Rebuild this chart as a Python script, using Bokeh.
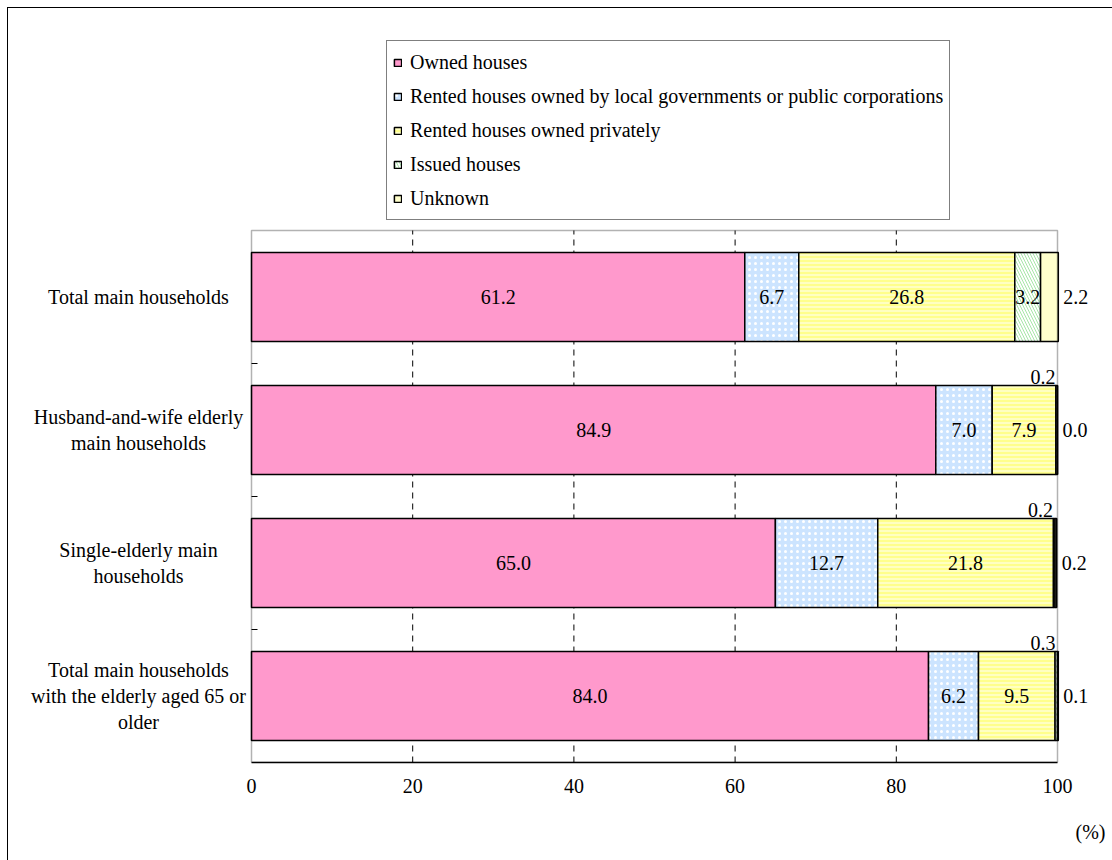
from bokeh.plotting import figure
from bokeh.models import (ColumnDataSource, Legend, LegendItem, FixedTicker,
                          Range1d, BoxAnnotation, Title)
from bokeh.core.properties import value
from bokeh.embed import file_html
from bokeh.resources import INLINE

# Housing tenure of main households (%)
categories = [
    "Total main households",
    "Husband-and-wife elderly\nmain households",
    "Single-elderly main\nhouseholds",
    "Total main households\nwith the elderly aged 65 or\nolder",
]
tenures = [
    "Owned houses",
    "Rented houses owned by local governments or public corporations",
    "Rented houses owned privately",
    "Issued houses",
    "Unknown",
]
owned = [61.2, 84.9, 65.0, 84.0]
public_rented = [6.7, 7.0, 12.7, 6.2]
private_rented = [26.8, 7.9, 21.8, 9.5]
issued = [3.2, 0.2, 0.2, 0.3]
unknown = [2.2, 0.0, 0.2, 0.1]
x_ticks = [0, 20, 40, 60, 80, 100]

FONT = "Liberation Serif"
FS = "20px"

# frame geometry (px): the frame fills the canvas above the x axis; the bar
# area sits inside it, leaving room for category names and the legend
FRAME_W, FRAME_H = 1104, 754
BOTTOM = 98
AREA_L, AREA_W = 243, 806
AREA_T = 222
AREA_H = FRAME_H - AREA_T
X_MAX = 100.0

keys = ["owned", "public_rented", "private_rented", "issued", "unknown"]
series = [owned, public_rented, private_rented, issued, unknown]
n = len(categories)
ys = [n - i - 0.5 for i in range(n)]          # first category on top
bar_h = 0.67

px_x = AREA_W / X_MAX
px_y = AREA_H / n
x_range = Range1d(-AREA_L / px_x, (FRAME_W - AREA_L) / px_x)
y_range = Range1d(0, FRAME_H / px_y)

data = {"y": ys, "cat": categories}
for k, s in zip(keys, series):
    data[k] = s
source = ColumnDataSource(data)

p = figure(frame_width=FRAME_W, frame_height=FRAME_H,
           output_backend="svg", toolbar_location=None,
           x_range=x_range, y_range=y_range, y_axis_location=None,
           min_border_left=0, min_border_right=0, min_border_top=0,
           min_border_bottom=BOTTOM)
p.margin = (7, 0, 0, 7)
p.styles = {"border-top": "1.5px solid #000", "border-left": "1.5px solid #000"}
p.background_fill_color = "white"
p.border_fill_color = "white"
p.outline_line_color = None
p.xgrid.grid_line_color = None
p.ygrid.grid_line_color = None

# dashed vertical grid lines at the inner ticks
inner = x_ticks[1:-1]
p.segment(x0=inner, y0=[0] * len(inner), x1=inner, y1=[n] * len(inner),
          line_color="black", line_width=1, line_dash="6 5", level="underlay")

fills = ["#FF99CC", "#CCE4FF", "#FFFF8C", "#FFFFFF", "#FFFFCC"]
hatches = [None, "dot", "horizontal_line", "left_diagonal_line", None]
hatch_colors = ["white", "white", "#FFFFE6", "#A8E6A8", "white"]
hatch_scales = [6, 6, 4, 6, 6]
hatch_weights = [1, 1.6, 1.2, 1, 1]

renderers = p.hbar_stack(keys, y="y", height=bar_h, source=source,
                         fill_color=fills, hatch_pattern=hatches,
                         hatch_color=hatch_colors, hatch_scale=hatch_scales,
                         hatch_weight=hatch_weights,
                         line_color="black", line_width=1.5)

# plot-area box
p.add_layout(BoxAnnotation(left=0, right=X_MAX, bottom=0, top=n,
                           fill_color=None, line_color="black", line_width=1.5))

# short inward ticks between categories
bounds = [float(k) for k in range(1, n)]
p.ray(x=[0] * len(bounds), y=bounds, length=6, length_units="screen", angle=0,
      line_color="black", line_width=1)

# category names
p.text(x=[0] * n, y=ys, text=categories, x_offset=-113,
       text_align="center", text_baseline="middle", text_line_height=1.17,
       text_font=value(FONT), text_font_size=FS, text_color="black")

# value labels
in_x, in_y, in_t = [], [], []
top_x, top_y, top_t = [], [], []
out_x, out_y, out_t = [], [], []
for i in range(n):
    left = 0.0
    for j, s in enumerate(series):
        v = s[i]
        right = left + v
        txt = f"{v:.1f}"
        if j == len(series) - 1:
            out_x.append(right); out_y.append(ys[i]); out_t.append(txt)
        elif v < 1.0:
            top_x.append(right); top_y.append(ys[i] + bar_h / 2); top_t.append(txt)
        else:
            in_x.append((left + right) / 2); in_y.append(ys[i]); in_t.append(txt)
        left = right

common = dict(text_font=value(FONT), text_font_size=FS, text_color="black")
p.text(x=in_x, y=in_y, text=in_t, text_align="center", text_baseline="middle", **common)
p.text(x=top_x, y=top_y, text=top_t, text_align="right", text_baseline="bottom",
       x_offset=-2, y_offset=-1, **common)
p.text(x=out_x, y=out_y, text=out_t, text_align="left", text_baseline="middle",
       x_offset=5, **common)

# x axis
xa = p.xaxis[0]
xa.ticker = FixedTicker(ticks=x_ticks)
xa.bounds = (0, X_MAX)
xa.major_tick_in = 0
xa.major_tick_out = 0
xa.minor_tick_in = 0
xa.minor_tick_out = 0
xa.axis_line_color = "black"
xa.axis_line_width = 1.5
xa.major_label_standoff = 16
xa.major_label_text_font = FONT
xa.major_label_text_font_size = FS
xa.major_label_text_color = "black"

p.add_layout(Title(text="(%)", align="right", offset=7, standoff=46,
                   text_font=FONT, text_font_size=FS, text_font_style="normal",
                   text_color="black"), "below")

# legend above the bars
legend = Legend(items=[LegendItem(label=t, renderers=[r]) for t, r in zip(tenures, renderers)],
                location=(378, 542), orientation="vertical",
                label_text_font=FONT, label_text_font_size=FS, label_text_color="black",
                glyph_width=9, glyph_height=9, label_standoff=8,
                label_height=30, spacing=4, padding=6, margin=0,
                border_line_color="black", border_line_width=1,
                background_fill_color="white", background_fill_alpha=1)
p.add_layout(legend, "center")

open("out.html", "w").write(file_html(p, INLINE))
